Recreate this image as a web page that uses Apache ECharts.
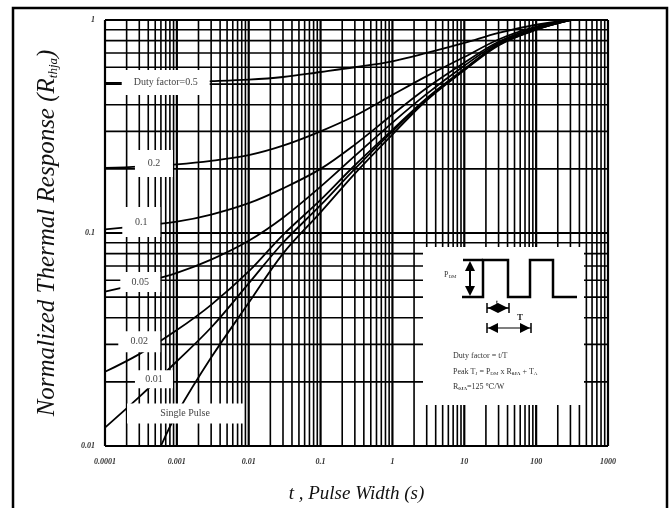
<!DOCTYPE html>
<html>
<head>
<meta charset="utf-8">
<script src="https://cdn.jsdelivr.net/npm/echarts@6/dist/echarts.min.js"></script>
<style>
  html, body { margin: 0; padding: 0; background: #fff; }
  #chart { width: 670px; height: 508px; }
</style>
</head>
<body>
<div id="chart"></div>
<script>
// pulse width (s) where the curves were read
const pulseWidth = [1e-4, 3e-4, 1e-3, 3e-3, 0.01, 0.03, 0.1, 0.3, 1, 3, 10, 30, 100, 300];

// normalized thermal response, one list per duty factor
const duty05 = [0.506, 0.508, 0.512, 0.517, 0.525, 0.54, 0.57, 0.6, 0.64, 0.7, 0.78, 0.87, 0.95, 1];
const duty02 = [0.202, 0.205, 0.21, 0.218, 0.232, 0.257, 0.3, 0.355, 0.445, 0.545, 0.67, 0.81, 0.93, 1];
const duty01 = [0.104, 0.108, 0.113, 0.122, 0.138, 0.162, 0.2, 0.26, 0.36, 0.48, 0.63, 0.79, 0.92, 1];
const duty005 = [0.053, 0.058, 0.065, 0.075, 0.092, 0.118, 0.165, 0.23, 0.33, 0.45, 0.61, 0.78, 0.91, 1];
const duty002 = [0.0223, 0.027, 0.035, 0.046, 0.066, 0.098, 0.143, 0.208, 0.305, 0.43, 0.59, 0.77, 0.905, 1];
const duty001 = [0.0122, 0.017, 0.025, 0.036, 0.058, 0.09, 0.135, 0.2, 0.3, 0.425, 0.585, 0.765, 0.9, 1];

// single pulse enters at the bottom of the chart
const singleX = [6e-4, 1e-3, 3e-3, 0.01, 0.03, 0.1, 0.3, 1, 3, 10, 30, 100, 300];
const singleY = [0.01, 0.0142, 0.026, 0.047, 0.08, 0.125, 0.19, 0.29, 0.42, 0.58, 0.76, 0.9, 1];

// tick labels
const xTickLabels = ['0.0001', '0.001', '0.01', '0.1', '1', '10', '100', '1000'];
const yTickLabels = ['0.01', '0.1', '1'];

// curve labels (white boxes sitting on the curves)
const noteText = ['Duty factor=0.5', '0.2', '0.1', '0.05', '0.02', '0.01', 'Single Pulse'];
const noteX = [7.0e-4, 4.8e-4, 3.2e-4, 3.1e-4, 3.0e-4, 4.8e-4, 1.3e-3];
const noteY = [0.509, 0.212, 0.1126, 0.0589, 0.0309, 0.0206, 0.0142];
const noteBox = [[88, 25], [38, 27], [38, 30], [40, 20], [42, 21], [38, 18], [116, 20]];

const xMin = 1e-4, xMax = 1000, yMin = 0.01, yMax = 1;
const serif = '"Liberation Serif", "DejaVu Serif", serif';

// log grid: 1..9 in every decade
let vGrid = [], hGrid = [];
for (let k = -4; k <= 2; k++) for (let m = 1; m <= 9; m++) vGrid.push(m * Math.pow(10, k));
vGrid.push(1000);
for (let k = -2; k <= -1; k++) for (let m = 1; m <= 9; m++) hGrid.push(m * Math.pow(10, k));
hGrid.push(1);

function isDecade(v) {
  return Math.abs(Math.log10(v) - Math.round(Math.log10(v))) < 1e-6;
}

function curve(name, ys, xs) {
  return {
    name: name,
    type: 'line',
    data: ys.map((y, i) => [(xs || pulseWidth)[i], y]),
    smooth: 0.35,
    symbol: 'none',
    z: 3,
    lineStyle: { color: '#000', width: 1.8 }
  };
}

// inset drawing: pulse train and formulas
const insetParts = [
  { type: 'rect', shape: { x: 0, y: 0, width: 161, height: 158 }, style: { fill: '#fff' } },
  {
    type: 'polyline',
    shape: { points: [[39, 50], [60, 50], [60, 13], [85, 13], [85, 50], [107, 50], [107, 13], [130, 13], [130, 50], [154, 50]] },
    style: { stroke: '#000', lineWidth: 2.5, fill: 'none' }
  },
  { type: 'line', shape: { x1: 40, y1: 13, x2: 60, y2: 13 }, style: { stroke: '#000', lineWidth: 2.5 } },
  { type: 'line', shape: { x1: 47, y1: 16, x2: 47, y2: 47 }, style: { stroke: '#000', lineWidth: 2 } },
  { type: 'polygon', shape: { points: [[47, 14], [42, 24], [52, 24]] }, style: { fill: '#000' } },
  { type: 'polygon', shape: { points: [[47, 49], [42, 39], [52, 39]] }, style: { fill: '#000' } },
  {
    type: 'text',
    style: {
      text: '{m|P}{s|DM}',
      x: 21, y: 28, verticalAlign: 'middle',
      rich: {
        m: { fontFamily: serif, fontSize: 8, fill: '#333' },
        s: { fontFamily: serif, fontSize: 5, fill: '#333', padding: [3, 0, 0, 0] }
      }
    }
  },
  // t arrow
  { type: 'text', style: { text: 't', x: 74, y: 55, align: 'center', verticalAlign: 'middle', fontFamily: serif, fontSize: 7, fontWeight: 'bold', fill: '#222' } },
  { type: 'line', shape: { x1: 64, y1: 61, x2: 86, y2: 61 }, style: { stroke: '#000', lineWidth: 1.5 } },
  { type: 'line', shape: { x1: 64, y1: 56, x2: 64, y2: 66 }, style: { stroke: '#000', lineWidth: 1.5 } },
  { type: 'line', shape: { x1: 86, y1: 56, x2: 86, y2: 66 }, style: { stroke: '#000', lineWidth: 1.5 } },
  { type: 'polygon', shape: { points: [[65, 61], [75, 56], [75, 66]] }, style: { fill: '#000' } },
  { type: 'polygon', shape: { points: [[85, 61], [75, 56], [75, 66]] }, style: { fill: '#000' } },
  // T arrow
  { type: 'text', style: { text: 'T', x: 97, y: 71, align: 'center', verticalAlign: 'middle', fontFamily: serif, fontSize: 9, fontWeight: 'bold', fill: '#222' } },
  { type: 'line', shape: { x1: 64, y1: 81, x2: 108, y2: 81 }, style: { stroke: '#000', lineWidth: 1.2 } },
  { type: 'line', shape: { x1: 64, y1: 76, x2: 64, y2: 86 }, style: { stroke: '#000', lineWidth: 1.5 } },
  { type: 'line', shape: { x1: 108, y1: 76, x2: 108, y2: 86 }, style: { stroke: '#000', lineWidth: 1.5 } },
  { type: 'polygon', shape: { points: [[65, 81], [75, 76], [75, 86]] }, style: { fill: '#000' } },
  { type: 'polygon', shape: { points: [[107, 81], [97, 76], [97, 86]] }, style: { fill: '#000' } },
  // formulas
  { type: 'text', style: { text: 'Duty factor = t/T', x: 30, y: 109, verticalAlign: 'middle', fontFamily: serif, fontSize: 8, fill: '#333' } },
  {
    type: 'text',
    style: {
      text: '{m|Peak T}{s|J}{m| = P}{s|DM}{m| x R}{b|θJA}{m| + T}{s|A}',
      x: 30, y: 125, verticalAlign: 'middle',
      rich: {
        m: { fontFamily: serif, fontSize: 8, fill: '#333' },
        s: { fontFamily: serif, fontSize: 5, fill: '#333', padding: [3, 0, 0, 0] },
        b: { fontFamily: serif, fontSize: 5, fontWeight: 'bold', fill: '#333', padding: [3, 0, 0, 0] }
      }
    }
  },
  {
    type: 'text',
    style: {
      text: '{m|R}{b|θJA}{m|=125 ℃/W}',
      x: 30, y: 140, verticalAlign: 'middle',
      rich: {
        m: { fontFamily: serif, fontSize: 8, fill: '#333' },
        b: { fontFamily: serif, fontSize: 5, fontWeight: 'bold', fill: '#333', padding: [3, 0, 0, 0] }
      }
    }
  }
].map((el) => Object.assign({ z: 20 }, el));

const myChart = echarts.init(document.getElementById('chart'));

myChart.setOption({
  animation: false,
  grid: { left: 105, right: 62, top: 20, bottom: 62, outerBoundsMode: 'none', containLabel: false },
  xAxis: {
    type: 'log',
    logBase: 10,
    min: xMin,
    max: xMax,
    splitNumber: 7,
    name: 't , Pulse Width (s)',
    nameLocation: 'middle',
    nameGap: 38,
    nameTextStyle: { fontFamily: serif, fontStyle: 'italic', fontSize: 19, color: '#111' },
    axisLine: { show: false },
    axisTick: { show: false },
    splitLine: { show: false },
    axisLabel: {
      margin: 12,
      fontFamily: serif,
      fontStyle: 'italic',
      fontWeight: 'bold',
      fontSize: 8,
      color: '#333',
      formatter: (v) => xTickLabels[Math.round(Math.log10(v)) + 4]
    }
  },
  yAxis: {
    type: 'log',
    logBase: 10,
    min: yMin,
    max: yMax,
    splitNumber: 2,
    name: '{a|Normalized Thermal Response (R}{b|thja}{a|)}',
    nameLocation: 'middle',
    nameGap: 45,
    nameTextStyle: {
      rich: {
        a: { fontFamily: serif, fontStyle: 'italic', fontSize: 25, color: '#111' },
        b: { fontFamily: serif, fontStyle: 'italic', fontSize: 13, color: '#111', padding: [12, 0, 0, 0] }
      }
    },
    axisLine: { show: false },
    axisTick: { show: false },
    splitLine: { show: false },
    axisLabel: {
      margin: 10,
      fontFamily: serif,
      fontStyle: 'italic',
      fontWeight: 'bold',
      fontSize: 8,
      color: '#333',
      formatter: (v) => yTickLabels[Math.round(Math.log10(v)) + 2]
    }
  },
  series: [
    {
      // vertical grid lines
      type: 'custom',
      z: 1,
      silent: true,
      data: vGrid.map((v) => [v, 0.5]),
      renderItem: (params, api) => {
        const v = api.value(0);
        const p1 = api.coord([v, yMin]);
        const p2 = api.coord([v, yMax]);
        return {
          type: 'line',
          shape: { x1: p1[0], y1: p1[1], x2: p2[0], y2: p2[1] },
          style: { stroke: '#000', lineWidth: isDecade(v) ? 2.2 : 1.6 }
        };
      }
    },
    {
      // horizontal grid lines
      type: 'custom',
      z: 1,
      silent: true,
      data: hGrid.map((v) => [1, v]),
      renderItem: (params, api) => {
        const v = api.value(1);
        const p1 = api.coord([xMin, v]);
        const p2 = api.coord([xMax, v]);
        return {
          type: 'line',
          shape: { x1: p1[0], y1: p1[1], x2: p2[0], y2: p2[1] },
          style: { stroke: '#000', lineWidth: isDecade(v) ? 2.2 : 1.6 }
        };
      }
    },
    curve('0.5', duty05),
    curve('0.2', duty02),
    curve('0.1', duty01),
    curve('0.05', duty005),
    curve('0.02', duty002),
    curve('0.01', duty001),
    curve('Single Pulse', singleY, singleX),
    {
      // curve labels
      type: 'custom',
      z: 5,
      silent: true,
      data: noteX.map((x, i) => [x, noteY[i]]),
      renderItem: (params, api) => {
        const c = api.coord([api.value(0), api.value(1)]);
        const box = noteBox[params.dataIndex];
        return {
          type: 'group',
          children: [
            {
              type: 'rect',
              shape: { x: c[0] - box[0] / 2, y: c[1] - box[1] / 2, width: box[0], height: box[1] },
              style: { fill: '#fff' }
            },
            {
              type: 'text',
              style: {
                text: noteText[params.dataIndex],
                x: c[0],
                y: c[1],
                align: 'center',
                verticalAlign: 'middle',
                fontFamily: serif,
                fontSize: 10,
                fill: '#444'
              }
            }
          ]
        };
      }
    }
  ],
  graphic: [
    {
      // outer frame
      type: 'rect',
      shape: { x: 13, y: 8, width: 654, height: 530 },
      style: { fill: 'none', stroke: '#000', lineWidth: 2.5 },
      z: 20
    },
    {
      type: 'group',
      x: 423,
      y: 247,
      z: 20,
      children: insetParts
    }
  ]
});
</script>
</body>
</html>
